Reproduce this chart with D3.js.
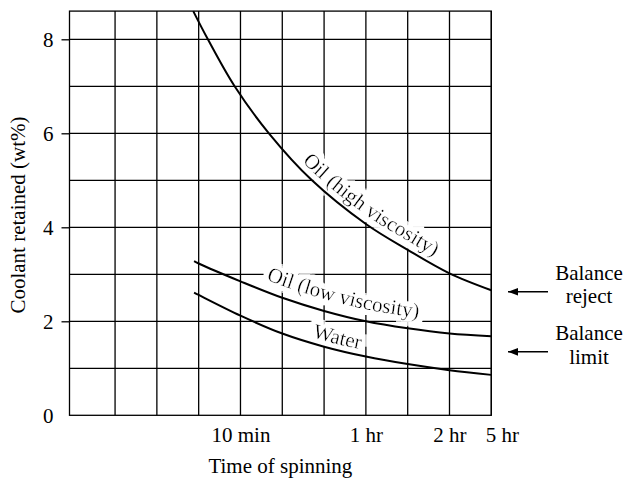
<!DOCTYPE html>
<html>
<head>
<meta charset="utf-8">
<script src="https://cdn.jsdelivr.net/npm/d3@7"></script>
<style>
  html, body { margin: 0; padding: 0; background: #fff; }
  svg { display: block; font-family: "Liberation Serif", "Times New Roman", serif; }
  svg text { font-family: "Liberation Serif", "Times New Roman", serif; }
</style>
</head>
<body>
<script>
// Time axis is drawn on a grid-column scale: one unit per vertical grid line.
const gridColumns = [1, 2, 3, 4, 5, 6, 7, 8, 9, 10];
const gridRows = [1, 2, 3, 4, 5, 6, 7, 8];
const yTickValues = [0, 2, 4, 6, 8];
const xTickLabels = ["10 min", "1 hr", "2 hr", "5 hr"];
const xTickAt = [4, 7, 9, 10.25];

// Coolant retained (wt%) versus spinning time (grid-column units)
const highViscT = [2.87, 3.22, 3.86, 4.68, 5.71, 7, 8, 9, 10];
const highViscV = [8.6, 8, 7, 6, 5, 4.07, 3.52, 3.02, 2.66];

const lowViscT = [2.89, 3, 4, 5, 6, 7, 8, 9, 10];
const lowViscV = [3.28, 3.23, 2.85, 2.5, 2.22, 2.0, 1.85, 1.74, 1.68];

const waterT = [2.89, 3, 4, 5, 6, 7, 8, 9, 10];
const waterV = [2.61, 2.56, 2.12, 1.74, 1.46, 1.25, 1.09, 0.96, 0.86];

const seriesNames = ["Oil (high viscosity)", "Oil (low viscosity)", "Water"];

// Balance thresholds marked by arrows on the right
const markerNames = [["Balance", "reject"], ["Balance", "limit"]];
const markerValues = [2.63, 1.35];

const W = 626, H = 479;
const svg = d3.select("body").append("svg").attr("width", W).attr("height", H);
const defs = svg.append("defs");

// white halo around curve labels so they break the grid lines
const halo = defs.append("filter").attr("id", "halo")
  .attr("x", "-20%").attr("y", "-40%").attr("width", "140%").attr("height", "180%");
halo.append("feMorphology").attr("in", "SourceAlpha").attr("operator", "dilate")
  .attr("radius", 4.5).attr("result", "grown");
halo.append("feFlood").attr("flood-color", "#fff").attr("result", "white");
halo.append("feComposite").attr("in", "white").attr("in2", "grown").attr("operator", "in").attr("result", "haloFill");
const merge = halo.append("feMerge");
merge.append("feMergeNode").attr("in", "haloFill");
merge.append("feMergeNode").attr("in", "SourceGraphic");

const x = d3.scaleLinear().domain([-0.09, 10]).range([69.5, 491.3]);
const y = d3.scaleLinear().domain([0, 8.6]).range([415.3, 11.1]);

const grid = svg.append("g").attr("stroke", "#000").attr("stroke-width", 1.3).attr("fill", "none");

grid.selectAll("line.h").data(gridRows).join("line")
  .attr("x1", x(-0.09)).attr("x2", x(10))
  .attr("y1", d => y(d)).attr("y2", d => y(d));
grid.selectAll("line.v").data(gridColumns).join("line")
  .attr("x1", d => x(d)).attr("x2", d => x(d))
  .attr("y1", y(0)).attr("y2", y(8.6));
grid.append("rect")
  .attr("x", x(-0.09)).attr("y", y(8.6))
  .attr("width", x(10) - x(-0.09)).attr("height", y(0) - y(8.6));

// y axis with short outward ticks at the labelled values
const yAxis = d3.axisLeft(y).tickValues(yTickValues).tickSize(8).tickPadding(8).tickFormat(d3.format("d"));
const yg = svg.append("g").attr("transform", `translate(${x(-0.09)},0)`).call(yAxis)
  .attr("font-family", null).attr("font-size", null);
yg.select(".domain").remove();
yg.selectAll(".tick line").attr("stroke", "#000").attr("stroke-width", 1.3)
  .attr("display", d => d === 0 ? "none" : null);
yg.selectAll(".tick text").attr("font-size", 21).attr("fill", "#000")
  .attr("dy", "0.33em").attr("x", -16);

// x axis labels
const xAxis = d3.axisBottom(x).tickValues(xTickAt).tickSize(0).tickPadding(0)
  .tickFormat((d, i) => xTickLabels[i]);
const xg = svg.append("g").attr("transform", `translate(0,${y(0)})`).call(xAxis)
  .attr("font-family", null).attr("font-size", null);
xg.select(".domain").remove();
xg.selectAll(".tick text").attr("font-size", 21).attr("fill", "#000")
  .attr("dy", null).attr("y", 26.5);

// axis titles
svg.append("text").attr("x", (x(-0.09) + x(10)) / 2).attr("y", 473.3)
  .attr("text-anchor", "middle").attr("font-size", 21).text("Time of spinning");
svg.append("text").attr("transform", "translate(25,215) rotate(-90)")
  .attr("text-anchor", "middle").attr("font-size", 21).text("Coolant retained (wt%)");

// curves
const series = [
  { t: highViscT, v: highViscV, off: 9, startX: 302 },
  { t: lowViscT, v: lowViscV, off: 12, startX: 266 },
  { t: waterT, v: waterV, off: 6, startX: 312 }
];

const lineFor = (s, off) => d3.line()
  .x(i => x(s.t[i])).y(i => y(s.v[i]) - off)
  .curve(d3.curveCatmullRom.alpha(0.5))(d3.range(s.t.length));

series.forEach((s, k) => {
  const p = defs.append("path").attr("id", "lbl" + k).attr("d", lineFor(s, s.off));
  const node = p.node();
  // arc length where the label path reaches the label's start x
  let lo = 0, hi = node.getTotalLength();
  for (let it = 0; it < 40; it++) {
    const mid = (lo + hi) / 2;
    if (node.getPointAtLength(mid).x < s.startX) lo = mid; else hi = mid;
  }
  s.startLen = lo;
});

// curve labels along their curves, then the curves on top
series.forEach((s, k) => {
  svg.append("text").attr("font-size", 21).attr("fill", "#000").attr("filter", "url(#halo)")
    .append("textPath").attr("href", "#lbl" + k).attr("startOffset", s.startLen)
    .text(seriesNames[k]);
});

svg.append("g").selectAll("path").data(series).join("path")
  .attr("d", s => lineFor(s, 0))
  .attr("fill", "none").attr("stroke", "#000").attr("stroke-width", 2);

// balance markers
defs.append("marker").attr("id", "arrowHead").attr("viewBox", "0 0 10 10")
  .attr("refX", 10).attr("refY", 5).attr("markerWidth", 10).attr("markerHeight", 10)
  .attr("markerUnits", "userSpaceOnUse").attr("orient", "auto")
  .append("path").attr("d", "M0,1.2 L10,5 L0,8.8 Z").attr("fill", "#000");

const mk = svg.append("g").selectAll("g").data(markerValues).join("g");
mk.append("line")
  .attr("x1", 548).attr("x2", 508)
  .attr("y1", d => y(d)).attr("y2", d => y(d))
  .attr("stroke", "#000").attr("stroke-width", 1.5).attr("marker-end", "url(#arrowHead)");
mk.append("text").attr("text-anchor", "middle").attr("font-size", 21).attr("fill", "#000")
  .attr("x", 589).attr("y", d => y(d) - 11.5)
  .text((d, i) => markerNames[i][0]);
mk.append("text").attr("text-anchor", "middle").attr("font-size", 21).attr("fill", "#000")
  .attr("x", 589).attr("y", d => y(d) + 11.8)
  .text((d, i) => markerNames[i][1]);
</script>
</body>
</html>
